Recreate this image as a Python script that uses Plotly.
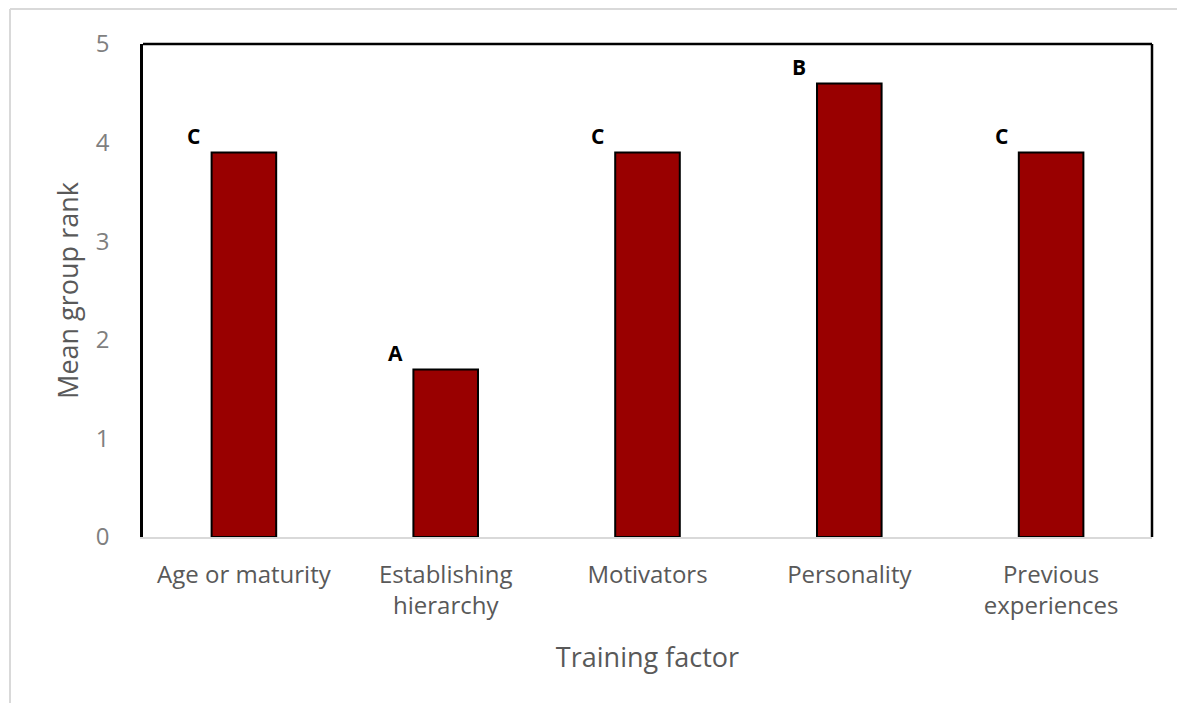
import plotly.graph_objects as go

categories = ["Age or maturity", "Establishing<br>hierarchy", "Motivators", "Personality", "Previous<br>experiences"]
mean_rank = [3.9, 1.7, 3.9, 4.6, 3.9]
group_letters = ["C", "A", "C", "B", "C"]
y_ticks = [0, 1, 2, 3, 4, 5]

OFF = 8  # page body margin
W, H = 1169, 695
L, T = 143 - OFF, 44 - OFF
R = W - (1152 - OFF)
B = H - (537 - OFF)
pw, ph = W - L - R, H - T - B

fig = go.Figure()
fig.add_trace(go.Bar(
    x=categories, y=mean_rank, width=0.32,
    marker=dict(color="#990000", line=dict(color="#000000", width=2)),
    showlegend=False,
))

for c, v, g in zip(categories, mean_rank, group_letters):
    fig.add_annotation(x=c, y=v, text=f"<b>{g}</b>", showarrow=False,
                       xshift=-50, yshift=16, yanchor="middle",
                       font=dict(family="Open Sans", size=21, color="#000000"))

def px_x(p):
    return (p - OFF - L) / pw

def px_y(p):
    return (H - B - (p - OFF)) / ph

# outer light border (left and top)
fig.add_shape(type="line", xref="paper", yref="paper",
              x0=px_x(10), x1=px_x(10), y0=px_y(720), y1=px_y(9),
              line=dict(color="#d9d9d9", width=2))
fig.add_shape(type="line", xref="paper", yref="paper",
              x0=px_x(10), x1=px_x(1190), y0=px_y(9), y1=px_y(9),
              line=dict(color="#d9d9d9", width=2))
# plot frame: top and right black
fig.add_shape(type="line", xref="paper", yref="paper",
              x0=0, x1=1, y0=1, y1=1, line=dict(color="#000000", width=2.5))
fig.add_shape(type="line", xref="paper", yref="paper",
              x0=1, x1=1, y0=0, y1=1, line=dict(color="#000000", width=2.5))

fig.update_layout(
    width=W, height=H,
    margin=dict(l=L, r=R, t=T, b=B),
    paper_bgcolor="white", plot_bgcolor="white",
    font=dict(family="Open Sans", color="#595959"),
    xaxis=dict(
        showline=True, linecolor="#d9d9d9", linewidth=2,
        tickfont=dict(size=24, color="#595959"),
        title=dict(text="Training factor", font=dict(size=27, color="#595959"), standoff=28),
        ticks="", showgrid=False, ticklabelstandoff=15,
    ),
    yaxis=dict(
        range=[0, 5], tickvals=y_ticks, showgrid=False, zeroline=False,
        showline=True, linecolor="#000000", linewidth=2.5,
        tickfont=dict(size=24, color="#7f7f7f"),
        ticks="", ticklabelstandoff=26,
        title=dict(text="Mean group rank", font=dict(size=27, color="#595959"), standoff=10),
    ),
)

fig.write_html("out.html")
